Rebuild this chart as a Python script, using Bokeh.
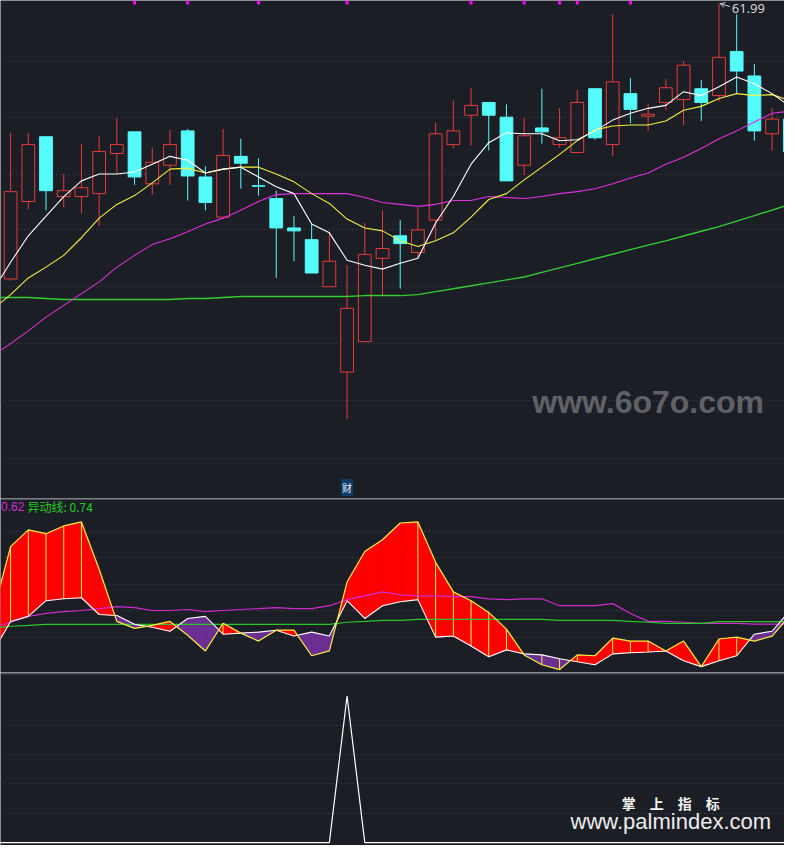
from bokeh.plotting import figure
from bokeh.layouts import column
from bokeh.models import Range1d, FixedTicker, Grid, Label, Span, Arrow, OpenHead
from bokeh.embed import file_html
from bokeh.resources import INLINE

# ---------------- data ----------------
bar_idx = list(range(45))
opens  = [47.94, 51.89, 55.19, 52.14, 52.14, 52.29, 54.34, 55.44, 52.79, 53.74,
          55.49, 53.14, 51.09, 54.19, 52.69, 52.04, 50.54, 49.94, 47.54, 43.19,
          44.74, 48.99, 50.14, 49.29, 50.94, 54.79, 56.29, 56.94, 56.19, 53.74,
          55.64, 54.79, 54.39, 57.64, 54.79, 57.39, 56.24, 56.94, 57.09, 57.64,
          57.29, 59.54, 58.29, 55.34, 56.09]
highs  = [55.39, 55.39, 55.19, 53.29, 54.84, 55.24, 56.14, 55.44, 54.64, 55.54,
          55.59, 53.69, 55.59, 55.09, 54.09, 52.44, 51.14, 50.74, 50.34, 48.64,
          50.79, 51.44, 50.94, 51.59, 55.89, 57.04, 57.69, 56.94, 56.84, 56.14,
          57.64, 56.64, 57.59, 57.69, 61.44, 58.19, 56.89, 58.14, 59.04, 58.09,
          61.99, 61.44, 58.89, 56.64, 56.64]
lows   = [47.84, 51.49, 51.44, 51.59, 51.29, 50.64, 53.34, 52.74, 52.24, 52.74,
          51.94, 51.44, 51.09, 52.54, 52.19, 47.99, 48.84, 48.24, 47.54, 40.79,
          44.74, 47.09, 47.44, 49.04, 49.94, 54.59, 54.74, 54.49, 52.94, 53.24,
          54.84, 54.64, 54.34, 55.04, 54.19, 55.89, 55.49, 56.54, 55.79, 55.99,
          56.99, 57.39, 54.99, 54.49, 54.14]
closes = [52.39, 54.79, 52.44, 52.44, 52.59, 54.44, 54.79, 53.14, 53.89, 54.79,
          53.19, 51.84, 54.24, 53.84, 52.67, 50.54, 50.39, 48.24, 48.84, 46.44,
          49.19, 49.49, 49.74, 50.44, 55.34, 55.49, 56.79, 56.29, 52.94, 55.24,
          55.44, 55.14, 56.94, 55.14, 57.99, 56.59, 56.34, 57.69, 58.84, 56.94,
          59.24, 58.54, 55.49, 56.09, 54.44]

# moving averages, bar -1 .. 44
ma_idx = list(range(-1, 45))
ma5   = [47.34, 48.79, 50.14, 51.14, 52.14, 52.94, 53.29, 53.29, 53.39, 53.79,
         54.19, 53.99, 53.34, 53.54, 53.64, 53.14, 52.64, 52.29, 50.74, 50.29,
         48.89, 48.64, 48.44, 48.74, 48.99, 50.79, 52.14, 53.79, 54.89, 55.39,
         55.34, 55.34, 54.99, 55.04, 55.49, 56.04, 56.39, 56.64, 56.79, 57.49,
         57.29, 57.74, 58.24, 57.89, 57.39, 56.74]
ma10  = [46.39, 47.14, 47.99, 48.54, 49.14, 50.04, 51.04, 51.74, 52.19, 52.84,
         53.54, 53.59, 53.34, 53.54, 53.64, 53.64, 53.29, 52.89, 52.29, 51.79,
         50.99, 50.54, 50.39, 49.89, 49.59, 49.89, 50.29, 51.09, 51.99, 52.29,
         52.99, 53.64, 54.29, 54.99, 55.54, 55.74, 55.79, 55.79, 55.99, 56.54,
         56.74, 57.14, 57.39, 57.29, 57.34, 57.04]
ma30  = [44.04, 44.64, 45.29, 45.99, 46.59, 47.19, 47.79, 48.54, 49.14, 49.69,
         49.99, 50.34, 50.74, 51.04, 51.44, 51.89, 52.24, 52.29, 52.29, 52.29,
         52.29, 52.09, 51.84, 51.74, 51.64, 51.74, 51.94, 51.94, 52.14, 52.09,
         52.04, 52.14, 52.29, 52.39, 52.54, 52.79, 53.09, 53.34, 53.79, 54.14,
         54.59, 55.09, 55.49, 55.94, 56.39, 56.49]
ma120 = [46.99, 46.99, 46.99, 46.94, 46.89, 46.89, 46.89, 46.89, 46.89, 46.89,
         46.89, 46.94, 46.94, 46.99, 47.04, 47.04, 47.04, 47.04, 47.04, 47.04,
         47.04, 47.09, 47.09, 47.09, 47.14, 47.29, 47.44, 47.59, 47.74, 47.89,
         48.04, 48.27, 48.50, 48.73, 48.97, 49.20, 49.43, 49.66, 49.88, 50.13,
         50.37, 50.61, 50.89, 51.17, 51.45, 51.74]

price_grid = [59.04, 56.19, 53.29, 50.44, 47.54, 44.64, 41.74, 38.79]
event_bars = [7, 10, 14, 19, 26, 29, 31, 32, 35]
report_bar = 19
peak_label = "61.99"
peak_bar = 40

# indicator panel, bar -1 .. 44
osc_yellow = [1.13, 4.32, 5.12, 4.94, 5.31, 5.50, 3.24, 0.75, 0.42, 0.56,
              0.75, 0.09, -0.66, 0.66, 0.19, -0.19, 0.33, 0.33, -0.89, -0.66,
              2.63, 4.09, 4.65, 5.45, 5.50, 3.57, 2.16, 1.74, 1.18, 0.38,
              -0.85, -1.32, -1.55, -0.85, -0.89, -0.05, -0.19, -0.19, -0.66, -0.19,
              -1.41, -0.09, 0.00, -0.19, 0.05, 1.03]
osc_white  = [-0.71, 0.75, 0.99, 1.74, 1.83, 1.88, 1.08, 1.03, 0.61, 0.47,
              0.28, 0.89, 0.99, 0.14, 0.19, 0.24, 0.33, 0.05, 0.24, 0.05,
              1.74, 0.89, 1.50, 1.69, 1.79, 0.00, 0.05, -0.42, -0.94, -0.61,
              -0.80, -0.85, -1.03, -1.18, -1.32, -0.80, -0.75, -0.71, -0.66, -1.13,
              -1.41, -1.13, -0.89, 0.14, 0.28, 1.27]
osc_magenta = [0.42, 0.71, 0.99, 1.13, 1.22, 1.27, 1.36, 1.46, 1.41, 1.27,
               1.27, 1.32, 1.22, 1.27, 1.32, 1.36, 1.41, 1.36, 1.36, 1.50,
               1.79, 1.97, 2.16, 2.02, 1.97, 1.97, 1.93, 1.93, 1.83, 1.79,
               1.83, 1.83, 1.50, 1.50, 1.50, 1.60, 1.13, 0.75, 0.75, 0.71,
               0.66, 0.66, 0.66, 0.62, 0.62, 0.62]
osc_green = [0.42, 0.52, 0.56, 0.61, 0.61, 0.61, 0.61, 0.61, 0.61, 0.61,
             0.61, 0.61, 0.61, 0.61, 0.61, 0.61, 0.61, 0.61, 0.61, 0.61,
             0.71, 0.75, 0.80, 0.80, 0.85, 0.85, 0.85, 0.85, 0.85, 0.85,
             0.85, 0.85, 0.80, 0.80, 0.80, 0.80, 0.75, 0.71, 0.66, 0.66,
             0.66, 0.74, 0.74, 0.74, 0.74, 0.74]
stick_bars = [0, 1, 2, 3, 4, 12, 23, 24, 25, 26, 27, 28, 30, 31, 32, 34, 35, 36, 40, 41]
osc_grid = [0, 1.26, 2.52, 3.78, 5.04]
legend_magenta = "0.62"
legend_green = "异动线: 0.74"

# bottom panel, bar -1 .. 44
signal = [0, 0, 0, 0, 0, 0, 0, 0, 0, 0,
          0, 0, 0, 0, 0, 0, 0, 0, 0, 0,
          100, 0, 0, 0, 0, 0, 0, 0, 0, 0,
          0, 0, 0, 0, 0, 0, 0, 0, 0, 0,
          0, 0, 0, 0, 0, 0]
signal_grid = [20, 40, 60, 80]

# ---------------- style ----------------
BG = "#1c1e25"
GRID_C = "#474a55"
RED = "#e63c3c"
CYAN = "#55fcfc"
W = 784
H_MAIN, H_IND, H_BOT = 498, 174, 173
xr = Range1d(-0.57, 43.70)


def base(h, y0, y1, ticks):
    p = figure(width=W, height=h, x_range=xr, y_range=Range1d(y0, y1),
               output_backend="svg", toolbar_location=None, tools="",
               x_axis_location=None, y_axis_location=None,
               background_fill_color=BG, border_fill_color=BG,
               min_border=0, outline_line_color=None)
    p.grid.visible = False
    p.add_layout(Grid(dimension=1, ticker=FixedTicker(ticks=ticks),
                      grid_line_color=GRID_C, grid_line_dash="1 3",
                      grid_line_width=1))
    return p


# ---------------- main price panel ----------------
p1 = base(H_MAIN, 36.74, 62.14, price_grid)

up = [i for i in bar_idx if closes[i] >= opens[i]]
dn = [i for i in bar_idx if closes[i] < opens[i]]


def pick(arr, ids):
    return [arr[i] for i in ids]


p1.segment(x0=up, y0=pick(highs, up), x1=up, y1=pick(lows, up),
           line_color=RED, line_width=1)
p1.vbar(x=up, width=0.72,
        top=[max(opens[i], closes[i]) for i in up],
        bottom=[min(opens[i], closes[i]) for i in up],
        fill_color=BG, line_color=RED, line_width=1)
p1.segment(x0=dn, y0=pick(highs, dn), x1=dn, y1=pick(lows, dn),
           line_color=CYAN, line_width=1)
p1.vbar(x=dn, width=0.72,
        top=[max(opens[i], closes[i]) for i in dn],
        bottom=[min(opens[i], closes[i]) for i in dn],
        fill_color=CYAN, line_color=CYAN, line_width=1)

p1.line(ma_idx, ma120, line_color="#33cc33", line_width=1.4)
p1.line(ma_idx, ma30, line_color="#e030e0", line_width=1.1)
p1.line(ma_idx, ma10, line_color="#f2f040", line_width=1.1)
p1.line(ma_idx, ma5, line_color="#ffffff", line_width=1.1)

p1.vbar(x=event_bars, width=0.17, top=62.14, bottom=61.94,
        fill_color="#ff00ff", line_color=None)

p1.add_layout(Arrow(end=OpenHead(size=5, line_color="#d0d0d0", line_width=1),
                    x_start=peak_bar + 0.62, y_start=highs[peak_bar] - 0.16,
                    x_end=peak_bar + 0.06, y_end=highs[peak_bar] - 0.01,
                    line_color="#d0d0d0", line_width=1))
p1.add_layout(Label(x=peak_bar + 0.72, y=highs[peak_bar] - 0.24, text=peak_label,
                    text_font="Noto Sans", text_font_size="13px",
                    text_color="#d4d4d4", text_baseline="middle"))

p1.add_layout(Label(x=36.0, y=41.64, text="www.6o7o.com",
                    text_font="Liberation Sans", text_font_style="bold",
                    text_font_size="32px", text_color="#606166",
                    text_align="center", text_baseline="middle"))

p1.add_layout(Label(x=report_bar, y=37.3, text="财",
                    text_font="Noto Sans CJK SC", text_font_size="10px",
                    text_color="#e8f4ff", background_fill_color="#0e3a66",
                    padding=1, text_align="center", text_baseline="middle"))

# ---------------- indicator panel ----------------
p2 = base(H_IND, -1.69, 6.62, osc_grid)

red_x, red_y, pur_x, pur_y = [], [], [], []
for k in range(len(ma_idx) - 1):
    x0, x1 = ma_idx[k], ma_idx[k + 1]
    a0, a1 = osc_yellow[k], osc_yellow[k + 1]
    b0, b1 = osc_white[k], osc_white[k + 1]
    d0, d1 = a0 - b0, a1 - b1
    if d0 * d1 >= 0:
        if d0 + d1 == 0:
            continue
        tx, ty = (red_x, red_y) if d0 + d1 > 0 else (pur_x, pur_y)
        tx.append([x0, x1, x1, x0])
        ty.append([a0, a1, b1, b0])
    else:
        t = d0 / (d0 - d1)
        xc = x0 + t * (x1 - x0)
        yc = a0 + t * (a1 - a0)
        tx, ty = (red_x, red_y) if d0 > 0 else (pur_x, pur_y)
        tx.append([x0, xc, x0])
        ty.append([a0, yc, b0])
        tx, ty = (red_x, red_y) if d1 > 0 else (pur_x, pur_y)
        tx.append([xc, x1, x1])
        ty.append([yc, a1, b1])

p2.patches(red_x, red_y, fill_color="#ff0000", line_color="#ff0000", line_width=0.6)
p2.patches(pur_x, pur_y, fill_color="#6b2e92", line_color="#6b2e92", line_width=0.6)

pos = {b: k for k, b in enumerate(ma_idx)}
p2.segment(x0=stick_bars, y0=[osc_white[pos[b]] for b in stick_bars],
           x1=stick_bars, y1=[osc_yellow[pos[b]] for b in stick_bars],
           line_color="#f0f040", line_width=1)

p2.line(ma_idx, osc_magenta, line_color="#d02ad0", line_width=1.2)
p2.line(ma_idx, osc_green, line_color="#28c828", line_width=1.2)
p2.line(ma_idx, osc_white, line_color="#ffffff", line_width=1.1)
p2.line(ma_idx, osc_yellow, line_color="#f4f040", line_width=1.2)

p2.add_layout(Span(location=6.58, dimension="width", line_color="#50535f", line_width=1.5))
p2.add_layout(Label(x=0.5, y=H_IND - 8, x_units="screen", y_units="screen",
                    text=legend_magenta, text_font="Liberation Sans",
                    text_font_size="12px", text_color="#d030d0",
                    text_baseline="middle"))
p2.add_layout(Label(x=27, y=H_IND - 8, x_units="screen", y_units="screen",
                    text=legend_green, text_font="Noto Sans CJK SC",
                    text_font_size="12px", text_color="#22cc22",
                    text_baseline="middle"))

# ---------------- bottom panel ----------------
p3 = base(H_BOT, -2.0, 116.0, signal_grid)
p3.add_layout(Span(location=115.1, dimension="width", line_color="#50535f", line_width=1.5))
p3.line(ma_idx, signal, line_color="#ffffff", line_width=1.2)
p3.add_layout(Label(x=37.28, y=26.7, text="掌\u3000上\u3000指\u3000标",
                    text_font="Noto Sans CJK SC", text_font_style="bold",
                    text_font_size="14px", text_color="#f2f2f2",
                    text_align="center", text_baseline="middle"))
p3.add_layout(Label(x=37.28, y=14.5, text="www.palmindex.com",
                    text_font="Liberation Sans", text_font_size="22px",
                    text_color="#ececec", text_align="center",
                    text_baseline="middle"))

layout = column(p1, p2, p3, spacing=0)
open("out.html", "w").write(file_html(layout, INLINE))
